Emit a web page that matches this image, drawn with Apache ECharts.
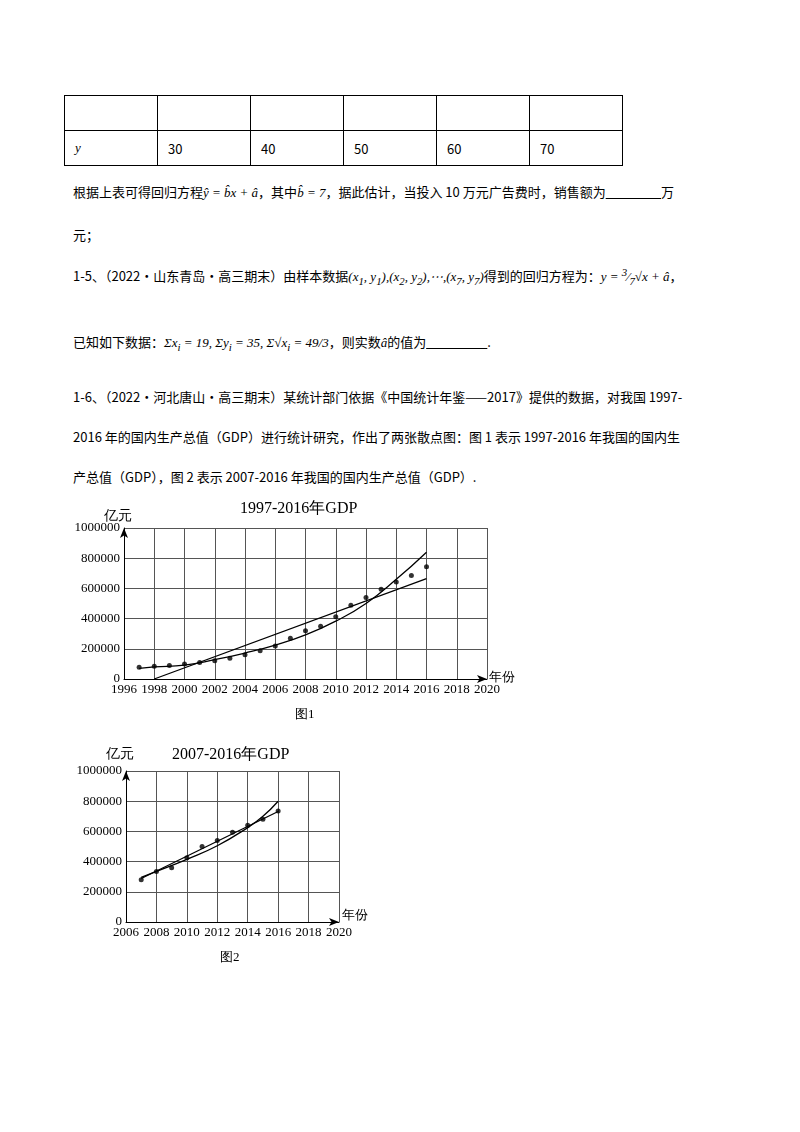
<!DOCTYPE html>
<html><head><meta charset="utf-8">
<script src="https://cdn.jsdelivr.net/npm/echarts@6/dist/echarts.min.js"></script>
<style>
body{margin:0;width:800px;height:1132px;background:#fff;position:relative;font-family:"Noto Sans CJK SC","Noto Sans",sans-serif;color:#000;}
.t{position:absolute;font-size:13px;white-space:nowrap;line-height:20px;}
.m{font-family:"Liberation Serif",serif;font-style:italic;}
table{position:absolute;left:64px;top:95px;border-collapse:collapse;}
td{border:1px solid #000;width:93px;height:35px;font-size:13px;padding:0 0 0 10px;box-sizing:border-box;}
.s{font-family:"Liberation Serif",serif;position:absolute;}
</style></head><body>
<table><tr><td></td><td></td><td></td><td></td><td></td><td></td></tr>
<tr><td class="m">y</td><td>30</td><td>40</td><td>50</td><td>60</td><td>70</td></tr></table>
<div class="t" style="left:73px;top:182px">根据上表可得回归方程<span class="m">ŷ = b̂x + â</span>，其中<span class="m">b̂ = 7</span>，据此估计，当投入 10 万元广告费时，销售额为<u>&nbsp;&nbsp;&nbsp;&nbsp;&nbsp;&nbsp;&nbsp;&nbsp;&nbsp;&nbsp;&nbsp;&nbsp;&nbsp;&nbsp;&nbsp;&nbsp;&nbsp;&nbsp;&nbsp;</u>万</div>
<div class="t" style="left:73px;top:225px">元；</div>
<div class="t" style="left:73px;top:262px">1-5、（2022·山东青岛·高三期末）由样本数据<span class="m">(x<sub>1</sub>, y<sub>1</sub>),(x<sub>2</sub>, y<sub>2</sub>),⋯,(x<sub>7</sub>, y<sub>7</sub>)</span>得到的回归方程为：<span class="m">y = <sup>3</sup>⁄<sub>7</sub>√x + â</span>，</div>
<div class="t" style="left:73px;top:332px">已知如下数据：<span class="m">Σx<sub>i</sub> = 19, Σy<sub>i</sub> = 35, Σ√x<sub>i</sub> = 49/3</span>，则实数<span class="m">â</span>的值为<u>&nbsp;&nbsp;&nbsp;&nbsp;&nbsp;&nbsp;&nbsp;&nbsp;&nbsp;&nbsp;&nbsp;&nbsp;&nbsp;&nbsp;&nbsp;&nbsp;&nbsp;&nbsp;&nbsp;&nbsp;&nbsp;</u>.</div>
<div class="t" style="left:73px;top:387px">1-6、（2022·河北唐山·高三期末）某统计部门依据《中国统计年鉴——2017》提供的数据，对我国 1997-</div>
<div class="t" style="left:73px;top:427px">2016 年的国内生产总值（GDP）进行统计研究，作出了两张散点图：图 1 表示 1997-2016 年我国的国内生</div>
<div class="t" style="left:73px;top:467px">产总值（GDP），图 2 表示 2007-2016 年我国的国内生产总值（GDP）.</div>
<div id="c1" style="position:absolute;left:0;top:495px;width:520px;height:230px"></div>
<div id="c2" style="position:absolute;left:0;top:740px;width:380px;height:230px"></div>
<div class="s" style="left:240px;top:498px;font-size:16px">1997-2016年GDP</div>
<div class="s" style="left:104px;top:507px;font-size:14px">亿元</div>
<div class="s" style="left:489px;top:668px;font-size:13px">年份</div>
<div class="s" style="left:295px;top:705px;font-size:13px">图1</div>
<div class="s" style="left:172px;top:744px;font-size:16px">2007-2016年GDP</div>
<div class="s" style="left:106px;top:745px;font-size:14px">亿元</div>
<div class="s" style="left:342px;top:906px;font-size:13px">年份</div>
<div class="s" style="left:220px;top:948px;font-size:13px">图2</div>
<script>
const years1=[1997,1998,1999,2000,2001,2002,2003,2004,2005,2006,2007,2008,2009,2010,2011,2012,2013,2014,2015,2016];
const gdp1=[78000,84000,89000,100000,110000,121000,137000,161000,187000,219000,270000,319000,349000,413000,489000,540000,595000,643000,686000,744000];
const lin1=[[1998,0],[2016,665000]];
const curve1=[[1997,70000],[1998,80000],[2000,92000],[2002,128000],[2004,172000],[2006,225000],[2008,292000],[2010,383000],[2012,500000],[2014,660000],[2016,840000]];
const years2=[2007,2008,2009,2010,2011,2012,2013,2014,2015,2016];
const gdp2=[280000,335000,360000,425000,500000,540000,595000,640000,680000,735000];
const lin2=[[2007,288000],[2016,732000]];
const curve2=[[2007,296000],[2008,335000],[2010,415000],[2012,505000],[2014,625000],[2015,700000],[2016,800000]];
const yTicks=[0,200000,400000,600000,800000,1000000];
function opt(g,xmin,years,gdp,lin,curve){
 const ax={color:'#000',fontFamily:'Liberation Serif',fontSize:13};
 return {animation:false,grid:g,
 xAxis:{type:'value',min:xmin,max:2020,interval:2,axisLine:{lineStyle:{color:'#000'},symbol:['none','arrow'],symbolSize:[6,10]},axisTick:{show:false},axisLabel:Object.assign({margin:4,formatter:v=>String(v)},ax),splitLine:{lineStyle:{color:'#555',width:1}}},
 yAxis:{type:'value',min:0,max:1000000,interval:200000,axisLine:{show:true,lineStyle:{color:'#000'},symbol:['none','arrow'],symbolSize:[6,10]},axisTick:{show:false},axisLabel:Object.assign({margin:4,formatter:v=>yTicks.includes(v)?String(v):''},ax),splitLine:{lineStyle:{color:'#555',width:1}}},
 series:[
  {type:'scatter',data:years.map((y,i)=>[y,gdp[i]]),symbolSize:5,itemStyle:{color:'#000'}},
  {type:'line',data:lin,showSymbol:false,lineStyle:{color:'#000',width:1.3}},
  {type:'line',data:curve,smooth:true,showSymbol:false,lineStyle:{color:'#000',width:1.3}}
 ]};
}
echarts.init(document.getElementById('c1')).setOption(opt({left:124,width:363,top:33,height:151},1996,years1,gdp1,lin1,curve1));
echarts.init(document.getElementById('c2')).setOption(opt({left:126,width:213,top:31,height:151},2006,years2,gdp2,lin2,curve2));
</script></body></html>
